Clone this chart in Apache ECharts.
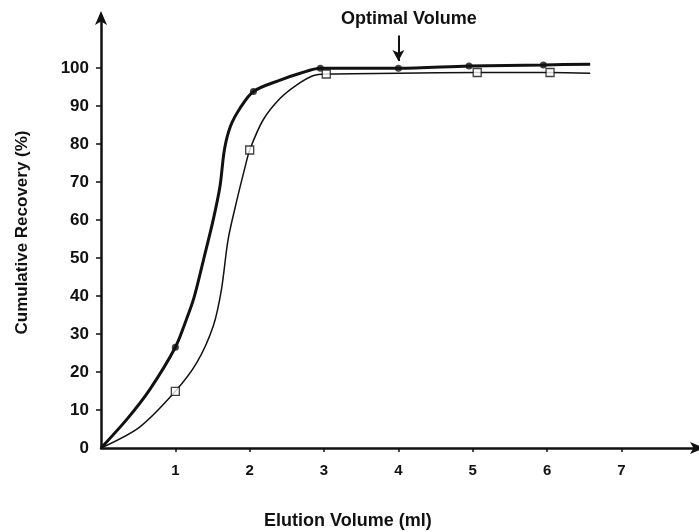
<!DOCTYPE html>
<html>
<head>
<meta charset="utf-8">
<script src="https://cdn.jsdelivr.net/npm/echarts@6/dist/echarts.min.js"></script>
<style>
  html, body { margin: 0; padding: 0; background: #fff; }
  #chart { width: 699px; height: 532px; }
</style>
</head>
<body>
<div id="chart"></div>
<script>
// measured points (markers), positions as drawn
const filledVolume = [1, 2.05, 2.95, 4, 4.95, 5.95];
const filledRecovery = [26.5, 93.8, 99.9, 99.9, 100.5, 100.8];
const openVolume = [1, 2, 3.03, 5.06, 6.04];
const openRecovery = [14.9, 78.4, 98.4, 98.8, 98.8];

// hand-drawn curves
const thickCurveX = [0, 0.35, 0.66, 1.0, 1.15, 1.25, 1.38, 1.51, 1.60, 1.66, 1.74, 1.87, 2.05, 2.41, 2.68, 2.95, 4.0, 4.95, 5.95, 6.58];
const thickCurveY = [0, 7.6, 15.5, 26.5, 33.9, 39.5, 49.6, 60.1, 68.8, 78.5, 84.6, 89.4, 93.8, 96.8, 98.6, 99.9, 99.9, 100.5, 100.8, 101];
const thinCurveX = [0, 0.52, 1.0, 1.29, 1.51, 1.62, 1.71, 1.83, 1.94, 2.0, 2.18, 2.41, 2.63, 2.86, 3.03, 4.0, 5.06, 6.04, 6.58];
const thinCurveY = [0, 5.5, 14.9, 22.5, 32.1, 41.7, 54.9, 65.4, 74.1, 78.4, 86.3, 92.0, 95.5, 98.0, 98.4, 98.6, 98.8, 98.8, 98.6];

const xTicks = [1, 2, 3, 4, 5, 6, 7];
const yTicks = [10, 20, 30, 40, 50, 60, 70, 80, 90, 100];
const yLabels = [0, 10, 20, 30, 40, 50, 60, 70, 80, 90, 100];
const optimalVolume = 4;

const ink = '#111';
const font = '"Liberation Sans", Arial, sans-serif';

const zip = (xs, ys) => xs.map((x, i) => [x, ys[i]]);

const chart = echarts.init(document.getElementById('chart'));
chart.setOption({
  backgroundColor: '#fff',
  animation: false,
  grid: { left: 101, right: 1, top: 17, bottom: 84 },
  xAxis: {
    type: 'value',
    min: 0,
    max: 8.03,
    axisLine: { lineStyle: { color: ink, width: 2.5 }, symbol: ['none', 'arrow'], symbolSize: [9, 14], symbolOffset: [0, 6] },
    axisTick: { customValues: xTicks, length: 4, lineStyle: { color: ink, width: 1.5 } },
    axisLabel: { customValues: xTicks, margin: 15, color: ink, fontFamily: font, fontWeight: 'bold', fontSize: 15 },
    splitLine: { show: false },
  },
  yAxis: {
    type: 'value',
    min: 0,
    max: 113.4,
    name: 'Cumulative Recovery (%)',
    nameLocation: 'middle',
    nameGap: 70,
    nameTextStyle: { color: ink, fontFamily: font, fontWeight: 'bold', fontSize: 17 },
    axisLine: { lineStyle: { color: ink, width: 2.5 }, symbol: ['none', 'arrow'], symbolSize: [9, 14], symbolOffset: [0, 6] },
    axisTick: { customValues: yTicks, length: 5, lineStyle: { color: ink, width: 1.5 } },
    axisLabel: { customValues: yLabels, margin: 12, color: ink, fontFamily: font, fontWeight: 'bold', fontSize: 17 },
    splitLine: { show: false },
  },
  title: {
    text: 'Elution Volume (ml)',
    left: 264,
    top: 512,
    padding: 0,
    textStyle: { color: ink, fontFamily: font, fontWeight: 'bold', fontSize: 18 },
  },
  graphic: [{
    type: 'text',
    left: 341,
    top: 10,
    style: { text: 'Optimal Volume', fill: ink, font: 'bold 18px ' + font },
  }],
  series: [
    {
      type: 'line',
      data: zip(thickCurveX, thickCurveY),
      smooth: 0.3,
      showSymbol: false,
      lineStyle: { color: ink, width: 3 },
      markLine: {
        silent: true,
        symbol: ['none', 'arrow'],
        symbolSize: [9, 11],
        label: { show: false },
        lineStyle: { color: ink, width: 2, type: 'solid' },
        data: [[{ coord: [optimalVolume, 108.5] }, { coord: [optimalVolume, 101.8] }]],
      },
      z: 3,
    },
    {
      type: 'line',
      data: zip(thinCurveX, thinCurveY),
      smooth: 0.3,
      showSymbol: false,
      lineStyle: { color: ink, width: 1.5 },
      z: 2,
    },
    {
      type: 'scatter',
      data: zip(filledVolume, filledRecovery),
      symbol: 'circle',
      symbolSize: 7,
      itemStyle: { color: ink },
      z: 4,
    },
    {
      type: 'scatter',
      data: zip(openVolume, openRecovery),
      symbol: 'rect',
      symbolSize: 8,
      itemStyle: { color: '#fff', borderColor: ink, borderWidth: 1.3 },
      z: 5,
    },
  ],
});
</script>
</body>
</html>
